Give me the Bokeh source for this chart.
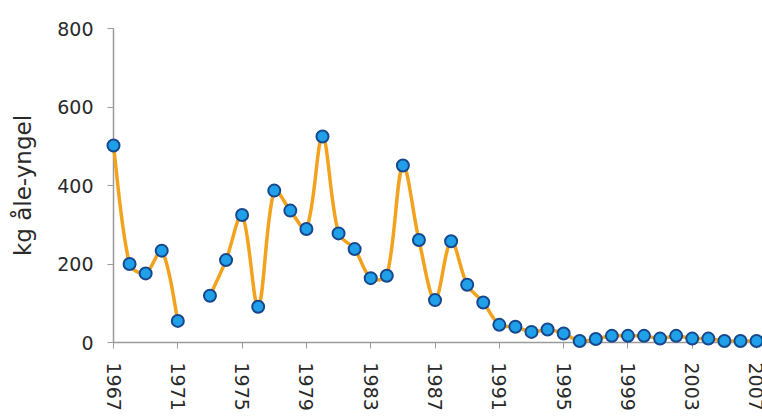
import math
from bokeh.plotting import figure
from bokeh.models import FixedTicker, ColumnDataSource
from bokeh.embed import file_html
from bokeh.resources import INLINE

# Data (kg åle-yngel per year); 1972 has no value
years = [1967, 1968, 1969, 1970, 1971,
         1973, 1974, 1975, 1976, 1977, 1978, 1979, 1980, 1981, 1982, 1983, 1984,
         1985, 1986, 1987, 1988, 1989, 1990, 1991, 1992, 1993, 1994, 1995, 1996,
         1997, 1998, 1999, 2000, 2001, 2002, 2003, 2004, 2005, 2006, 2007]
values = [502, 200, 176, 234, 55,
          119, 210, 325, 91, 387, 336, 289, 525, 278, 238, 164, 170,
          451, 261, 108, 258, 147, 102, 45, 40, 27, 33, 23, 4,
          9, 17, 17, 17, 10, 17, 10, 10, 4, 4, 4]
gap_after = [1971]  # line is broken between 1971 and 1973
x_ticks = [1967, 1971, 1975, 1979, 1983, 1987, 1991, 1995, 1999, 2003, 2007]
y_ticks = [0, 200, 400, 600, 800]
y_label = "kg åle-yngel"

LINE = "#F3A21E"
FILL = "#1FA0E8"
EDGE = "#17488E"
AXIS = "#9A9A9A"
TEXT = "#2A2A2A"
FONT = "DejaVu Sans"

X0, X1 = 1967, 2007.37
Y0, Y1 = 0, 800
W, H = 762, 417
LEFT, TOP, BOTTOM = 113, 28, 75

p = figure(width=W, height=H, output_backend="svg", toolbar_location=None,
           x_range=(X0, X1), y_range=(Y0, Y1),
           min_border_left=LEFT, min_border_right=0, min_border_top=TOP,
           min_border_bottom=BOTTOM)
p.outline_line_color = None
p.background_fill_color = "white"
p.border_fill_color = "white"
p.xgrid.visible = False
p.ygrid.visible = False

# aspect factors (pixels per data unit), only used to weight the smoothing
sx = (W - LEFT) / (X1 - X0)
sy = (H - TOP - BOTTOM) / (Y1 - Y0)

# split series into connected runs
runs = []
cur = []
for x, y in zip(years, values):
    cur.append((x, y))
    if x in gap_after:
        runs.append(cur)
        cur = []
if cur:
    runs.append(cur)


def dist(a, b):
    return math.hypot((a[0] - b[0]) * sx, (a[1] - b[1]) * sy)


# smoothed line drawn as cubic Bezier segments through the points
bx0, by0, bx1, by1, cx0, cy0, cx1, cy1 = [], [], [], [], [], [], [], []
for run in runs:
    n = len(run)
    for i in range(n - 1):
        p0 = run[i - 1] if i > 0 else run[i]
        p1 = run[i]
        p2 = run[i + 1]
        p3 = run[i + 2] if i + 2 < n else run[i + 1]
        d01, d12, d23 = dist(p0, p1), dist(p1, p2), dist(p2, p3)
        k1 = d12 / (d01 + d12) / 3.0 if d01 > 0 else 1 / 6.0
        k2 = d12 / (d12 + d23) / 3.0 if d23 > 0 else 1 / 6.0
        k1 = min(k1, 1 / 6.0 * 1.6)
        k2 = min(k2, 1 / 6.0 * 1.6)
        bx0.append(p1[0]); by0.append(p1[1])
        bx1.append(p2[0]); by1.append(p2[1])
        cx0.append(p1[0] + (p2[0] - p0[0]) * k1)
        cy0.append(p1[1] + (p2[1] - p0[1]) * k1)
        cx1.append(p2[0] - (p3[0] - p1[0]) * k2)
        cy1.append(p2[1] - (p3[1] - p1[1]) * k2)

bsrc = ColumnDataSource(dict(x0=bx0, y0=by0, x1=bx1, y1=by1,
                             cx0=cx0, cy0=cy0, cx1=cx1, cy1=cy1))
p.bezier(x0="x0", y0="y0", x1="x1", y1="y1", cx0="cx0", cy0="cy0",
         cx1="cx1", cy1="cy1", source=bsrc, line_color=LINE, line_width=3.5,
         level="overlay")

p.scatter(years, values, size=12, marker="circle", fill_color=FILL,
          line_color=EDGE, line_width=2, level="overlay")

# axes
p.xaxis.ticker = FixedTicker(ticks=x_ticks)
p.yaxis.ticker = FixedTicker(ticks=y_ticks)
p.xaxis.major_label_orientation = -math.pi / 2
for ax in (p.xaxis, p.yaxis):
    ax.axis_line_color = AXIS
    ax.axis_line_width = 1.5
    ax.major_tick_line_color = AXIS
    ax.major_tick_in = 0
    ax.major_tick_out = 6
    ax.minor_tick_line_color = None
    ax.major_label_text_font = FONT
    ax.major_label_text_font_size = "19px"
    ax.major_label_text_color = TEXT
    ax.major_label_standoff = 14

p.yaxis.axis_label = y_label
p.yaxis.axis_label_text_font = FONT
p.yaxis.axis_label_text_font_size = "23px"
p.yaxis.axis_label_text_font_style = "normal"
p.yaxis.axis_label_text_color = TEXT
p.yaxis.axis_label_standoff = 18

open("out.html", "w").write(file_html(p, INLINE))
